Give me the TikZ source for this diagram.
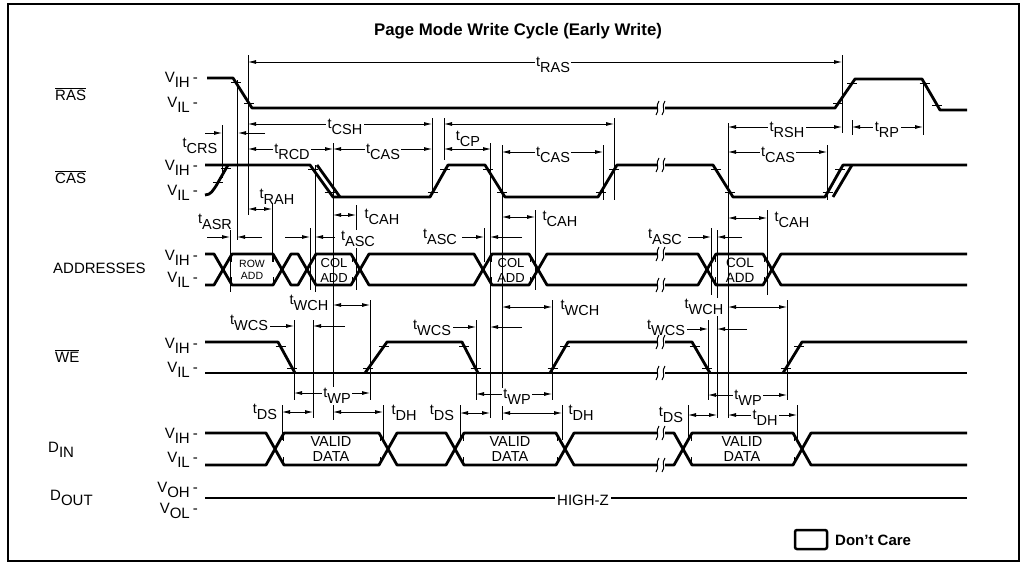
\documentclass[tikz,border=0pt]{standalone}
\usepackage{fontspec}
\setmainfont{Liberation Sans}
\usetikzlibrary{arrows.meta,calc}
\newcommand\tl[1]{t\raisebox{-5.5pt}{#1}}
\newcommand\vv[1]{V\raisebox{-5.5pt}{#1}\kern3pt-}
\newcommand\sbb[1]{\raisebox{-5pt}{#1}}
\newcommand\brk[2]{%
  \fill[white] ({#1-3.5},{#2-2.5}) rectangle ({#1+3.5},{#2+2.5});
  \draw[line width=1pt] ({#1-5},{#2+7}) .. controls ({#1-1},{#2+2}) and ({#1-6},{#2-2}) .. ({#1-2},{#2-7});
  \draw[line width=1pt] ({#1+1},{#2+7}) .. controls ({#1+5},{#2+2}) and ({#1},{#2-2}) .. ({#1+4},{#2-7});}
\newcommand\etk[4]{\draw[tickl] ($(#1,#2)!0.15!(#3,#4)$) ++(-5,0) -- ++(10,0) ($(#1,#2)!0.85!(#3,#4)$) ++(-5,0) -- ++(10,0);}
\newcommand\btk[3]{\draw[tickl] (#1,{#2+1}) -- (#1,{#2+8}) (#1,{#3-8}) -- (#1,{#3-1});}
\begin{document}
\begin{tikzpicture}[x=1pt,y=-1pt,
  wave/.style={line width=2.8pt,line join=round},
  thinl/.style={line width=0.8pt},
  tickl/.style={line width=0.8pt},
  dim/.style={line width=0.8pt,{Latex[length=8pt,width=4pt]}-{Latex[length=8pt,width=4pt]}},
  ardim/.style={line width=0.8pt,-{Latex[length=8pt,width=4pt]}},
  lab/.style={font=\fontsize{14.5}{15}\selectfont, inner sep=1.5pt},
  wlab/.style={lab, fill=white},
  sig/.style={font=\fontsize{15}{15}\selectfont, inner sep=0pt, anchor=base west},
  volt/.style={font=\fontsize{15}{15}\selectfont, inner sep=0pt, anchor=base east},
  boxt/.style={align=center, inner sep=0pt}]
\useasboundingbox (0,0) rectangle (1021,565);
\draw[line width=1.5pt] (8,4) rectangle (1019,561);
\node[font=\bfseries\fontsize{16.8}{17}\selectfont, anchor=base] (title) at (518,35) {Page Mode Write Cycle (Early Write)};

% signal names
\node[sig] (nras) at (55,100) {$\overline{\hbox{RAS}}$};
\node[sig] (ncas) at (55,183) {$\overline{\hbox{CAS}}$};
\node[sig] (nadr) at (53,273) {ADDRESSES};
\node[sig] (nwe) at (55,362) {$\overline{\hbox{WE}}$};
\node[sig] (ndin) at (48,452) {D\sbb{IN}};
\node[sig] (ndout) at (50,500) {D\sbb{OUT}};

% voltage labels
\node[volt] (v1) at (198,82) {\vv{IH}};
\node[volt] (v2) at (198,107) {\vv{IL}};
\node[volt] (v3) at (198,170) {\vv{IH}};
\node[volt] (v4) at (198,195) {\vv{IL}};
\node[volt] (v5) at (198,260) {\vv{IH}};
\node[volt] (v6) at (198,282) {\vv{IL}};
\node[volt] (v7) at (198,348) {\vv{IH}};
\node[volt] (v8) at (198,372) {\vv{IL}};
\node[volt] (v9) at (198,438) {\vv{IH}};
\node[volt] (v10) at (198,462) {\vv{IL}};
\node[volt] (v11) at (198,492) {\vv{OH}};
\node[volt] (v12) at (198,513) {\vv{OL}};

% extension lines
\draw[thinl] (222,125)--(222,178) (237,80)--(237,240) (248,55)--(248,215)
 (230,230)--(230,292) (272,203)--(272,262) (310,228)--(310,290) (315,165)--(315,292)
 (313,320)--(313,418) (333,143)--(333,420) (356,205)--(356,290) (370,300)--(370,400)
 (294,320)--(294,400) (282,405)--(282,440) (383,405)--(383,440) (432,118)--(432,195)
 (444,118)--(444,160) (490,143)--(490,418) (502,145)--(502,420) (484,228)--(484,262)
 (476,320)--(476,400) (460,405)--(460,440) (535,210)--(535,290) (552,300)--(552,400)
 (562,405)--(562,440) (603,145)--(603,200) (614,118)--(614,200) (711,228)--(711,295)
 (717,230)--(717,418) (728,123)--(728,418) (708,320)--(708,400) (767,210)--(767,295)
 (787,300)--(787,400) (688,405)--(688,440) (797,405)--(797,440) (827,145)--(827,200)
 (842,55)--(842,133) (852,120)--(852,135) (923,80)--(923,135);

% RAS
\draw[wave] (207,78) -- (233,78) -- (252,108) -- (835,108) -- (855,79) -- (922,79) -- (940,110) -- (967,110);
\etk{233}{78}{252}{108} \etk{835}{108}{855}{79} \etk{922}{79}{940}{110}
% CAS
\draw[wave] (205,165) -- (310,165) -- (333,197) -- (430,197) -- (448,165) -- (485,165) -- (505,197) -- (598,197) -- (617,165) -- (713,165) -- (733,197) -- (825,197) -- (843,165) -- (967,165);
\draw[wave] (317,165) -- (340,197);
\draw[wave] (833,197) -- (852,165);
\draw[wave] (205,195) .. controls (211,195) and (213,190) .. (216,186) -- (228,165);
\etk{216}{186}{228}{165} \etk{310}{165}{333}{197} \etk{430}{197}{448}{165} \etk{485}{165}{505}{197}
\etk{598}{197}{617}{165} \etk{713}{165}{733}{197} \etk{825}{197}{843}{165}
% ADDRESSES
\draw[wave] (205,254) -- (214,254) -- (223,269.5) -- (214,285) -- (205,285);
\foreach \a/\b in {223/282, 282/307, 307/360, 360/483, 483/538, 538/707, 707/772}{
  \draw[wave] (\a,269.5) -- ({\a+9},254) -- ({\b-9},254) -- (\b,269.5) -- ({\b-9},285) -- ({\a+9},285) -- cycle;}
\draw[wave] (967,254) -- (781,254) -- (772,269.5) -- (781,285) -- (967,285);
\foreach \x in {231,273,315,352,491,530,715,764}{\btk{\x}{254}{285}}
\node[boxt, font=\fontsize{10.5}{12}\selectfont] (rowadd) at (252,270) {ROW\\ADD};
\node[boxt, font=\fontsize{13}{15}\selectfont] (col1) at (334,270) {COL\\ADD};
\node[boxt, font=\fontsize{13}{15}\selectfont] (col2) at (511,270) {COL\\ADD};
\node[boxt, font=\fontsize{13.5}{15}\selectfont] (col3) at (740,270) {COL\\ADD};
% WE
\draw[wave] (205,373) -- (967,373);
\draw[wave] (205,342) -- (278,342) -- (295,373);
\draw[wave] (365,373) -- (387,342) -- (462,342) -- (478,373);
\draw[wave] (550,373) -- (568,342) -- (692,342) -- (710,373);
\draw[wave] (783,373) -- (802,342) -- (967,342);
\etk{278}{342}{295}{373} \etk{365}{373}{387}{342} \etk{462}{342}{478}{373}
\etk{550}{373}{568}{342} \etk{692}{342}{710}{373} \etk{783}{373}{802}{342}
% DIN
\draw[wave] (205,433) -- (266,433) -- (275,449) -- (266,465) -- (205,465);
\foreach \a/\b in {275/388, 388/455, 455/565, 565/683, 683/802}{
  \draw[wave] (\a,449) -- ({\a+9},433) -- ({\b-9},433) -- (\b,449) -- ({\b-9},465) -- ({\a+9},465) -- cycle;}
\draw[wave] (967,433) -- (811,433) -- (802,449) -- (811,465) -- (967,465);
\foreach \x in {283,380,463,557,691,794}{\btk{\x}{433}{465}}
\node[boxt, font=\fontsize{14.5}{15.5}\selectfont] (vd1) at (331,449) {VALID\\DATA};
\node[boxt, font=\fontsize{14.5}{15.5}\selectfont] (vd2) at (510,449) {VALID\\DATA};
\node[boxt, font=\fontsize{14.5}{15.5}\selectfont] (vd3) at (742,449) {VALID\\DATA};
% DOUT
\draw[wave] (205,498) -- (967,498);
\node[wlab, font=\fontsize{15}{15}\selectfont, inner sep=2pt] (hz) at (583,500) {HIGH-Z};

% breaks
\foreach \y in {108,165,254,285,342,373,433,465}{\brk{661}{\y}}

% dimensions
\draw[dim] (248,62) -- (842,62);   \node[wlab] (tras) at (553,65) {\tl{RAS}};
\draw[ardim] (205,133) -- (222,133); \draw[ardim] (265,133) -- (238,133);
\node[lab] (tcrs) at (200,146) {\tl{CRS}};
\draw[dim] (248,124) -- (432,124); \node[wlab] (tcsh) at (345,127) {\tl{CSH}};
\draw[dim] (444,124) -- (614,124);
\draw[dim] (248,149) -- (333,149); \node[wlab] (trcd) at (292,152) {\tl{RCD}};
\draw[dim] (333,149) -- (432,149); \node[wlab] (tcas1) at (383,152) {\tl{CAS}};
\draw[dim] (444,149) -- (491,149); \node[lab] (tcp) at (468,139) {\tl{CP}};
\draw[dim] (502,152) -- (603,152); \node[wlab] (tcas2) at (553,155) {\tl{CAS}};
\draw[dim] (728,127) -- (842,127); \node[wlab] (trsh) at (787,130) {\tl{RSH}};
\draw[dim] (852,127) -- (923,127); \node[wlab] (trp) at (887,130) {\tl{RP}};
\draw[dim] (728,152) -- (827,152); \node[wlab] (tcas3) at (778,155) {\tl{CAS}};

\draw[dim] (248,209) -- (272,209); \node[lab] (trah) at (277,197) {\tl{RAH}};
\draw[ardim] (207,237) -- (230,237); \draw[ardim] (262,237) -- (237,237);
\node[lab] (tasr) at (215,222) {\tl{ASR}};
\draw[ardim] (285,237) -- (310,237); \draw[ardim] (335,237) -- (315,237);
\node[wlab] (tasc1) at (358,239) {\tl{ASC}};
\draw[dim] (333,215) -- (356,215); \node[lab] (tcah1) at (382,217) {\tl{CAH}};
\draw[ardim] (462,237) -- (484,237); \draw[ardim] (522,237) -- (490,237);
\node[lab] (tasc2) at (440,237) {\tl{ASC}};
\draw[dim] (502,217) -- (535,217); \node[lab] (tcah2) at (560,219) {\tl{CAH}};
\draw[ardim] (688,237) -- (711,237); \draw[ardim] (742,237) -- (717,237);
\node[lab] (tasc3) at (665,237) {\tl{ASC}};
\draw[dim] (728,218) -- (767,218); \node[lab] (tcah3) at (792,220) {\tl{CAH}};

\draw[dim] (333,305) -- (370,305); \node[wlab] (twch1) at (309,303) {\tl{WCH}};
\draw[ardim] (270,326) -- (294,326); \draw[ardim] (345,326) -- (313,326);
\node[lab] (twcs1) at (249,323) {\tl{WCS}};
\draw[dim] (294,393) -- (370,393); \node[wlab] (twp1) at (337,396) {\tl{WP}};
\draw[dim] (282,412) -- (313,412); \node[lab] (tds1) at (265,412) {\tl{DS}};
\draw[dim] (333,412) -- (383,412); \node[lab] (tdh1) at (404,413) {\tl{DH}};
\draw[ardim] (453,327) -- (476,327); \draw[ardim] (522,327) -- (490,327);
\node[lab] (twcs2) at (432,328) {\tl{WCS}};
\draw[dim] (502,307) -- (552,307); \node[lab] (twch2) at (580,308) {\tl{WCH}};
\draw[dim] (476,394) -- (552,394); \node[wlab] (twp2) at (517,397) {\tl{WP}};
\draw[dim] (460,413) -- (490,413); \node[lab] (tds2) at (442,413) {\tl{DS}};
\draw[dim] (502,413) -- (562,413); \node[lab] (tdh2) at (581,413) {\tl{DH}};
\draw[ardim] (687,329) -- (708,329); \draw[ardim] (747,329) -- (717,329);
\node[lab] (twcs3) at (666,328) {\tl{WCS}};
\draw[dim] (728,307) -- (787,307); \node[wlab] (twch3) at (704,307) {\tl{WCH}};
\draw[dim] (708,395) -- (787,395); \node[wlab] (twp3) at (748,398) {\tl{WP}};
\draw[dim] (688,415) -- (717,415); \node[lab] (tds3) at (671,415) {\tl{DS}};
\draw[dim] (728,415) -- (797,415); \node[wlab] (tdh3) at (765,418) {\tl{DH}};

% legend
\draw[line width=2.5pt, rounded corners=2pt] (795,530) rectangle (827,549);
\node[font=\bfseries\fontsize{15}{15}\selectfont, anchor=west, inner sep=0pt] (dc) at (835,540) {Don't Care};
\end{tikzpicture}
\end{document}
